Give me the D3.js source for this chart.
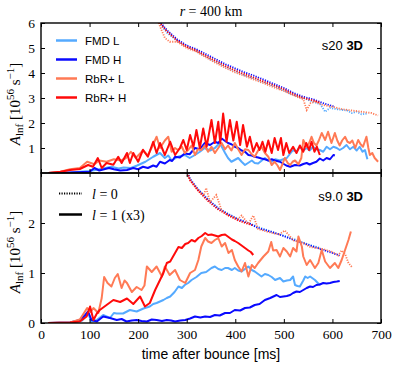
<!DOCTYPE html>
<head>
  <meta charset="utf-8">
  <script src="https://d3js.org/d3.v7.min.js"></script>
  <style>
    body { margin:0; background:#fff; }
    .tick text { font: 13.5px "Liberation Serif", serif; fill:#000; }
    .tick line { stroke:#000; stroke-width:1; }
    .frame { fill:none; stroke:#000; stroke-width:1.4; }
    .leg { font: 11.5px "Liberation Sans", sans-serif; }
    .serif { font-family: "Liberation Serif", serif; }
  </style>
</head>
<body>
<svg id="chart" width="399" height="370"></svg>
<script>
// ---------- data ----------
var xTicks = [0, 100, 200, 300, 400, 500, 600, 700];
var yTicksTop = [1, 2, 3, 4, 5, 6];
var yTicksBot = [0, 1, 2];

var models = ["FMD L", "FMD H", "RbR+ L", "RbR+ H"];
var colors = ["#55aaff", "#0a0aff", "#ff7a55", "#ff0a0a"];

// s20, l=1 (x3)
var s20_fmdL_l1 = [[15,0],[60,0.02],[100,0.08],[120,0.15],[145,0.25],[160,0.18],[170,0.22],[185,0.2],[198,0.3],[215,0.45],[231,0.65],[245,0.8],[255,0.6],[262,0.7],[269,0.5],[282,0.65],[296,0.72],[306,0.6],[317,0.72],[327,0.85],[337,1.0],[348,0.9],[358,1.0],[368,1.2],[379,0.8],[385,0.6],[392,0.45],[406,0.6],[413,0.45],[420,0.32],[434,0.5],[440,0.4],[447,0.38],[461,0.6],[468,0.5],[475,0.45],[482,0.55],[492,0.5],[506,0.6],[512,0.75],[519,0.92],[526,0.85],[533,1.05],[540,0.9],[547,1.0],[553,0.9],[560,1.05],[567,0.95],[574,0.92],[581,0.85],[588,1.05],[595,0.95],[602,1.05],[609,1.0],[615,0.92],[622,1.0],[629,1.12],[636,0.95],[643,1.05],[650,0.9],[656,1.05],[662,0.85],[667,0.92],[672,0.55]];
var s20_fmdH_l1 = [[15,0],[60,0.02],[100,0.05],[110,0.2],[120,0.1],[130,0.15],[140,0.2],[150,0.15],[163,0.1],[177,0.12],[190,0.2],[200,0.15],[210,0.25],[220,0.2],[231,0.3],[238,0.25],[245,0.45],[255,0.38],[265,0.52],[270,0.48],[276,0.65],[286,0.62],[296,0.78],[306,0.75],[317,1.0],[327,0.95],[337,1.2],[348,1.12],[358,1.25],[365,1.2],[372,1.38],[379,1.28],[385,1.2],[392,1.15],[399,1.05],[406,1.0],[413,0.9],[420,0.85],[427,0.72],[434,0.7],[440,0.65],[447,0.62],[454,0.58],[461,0.55],[468,0.5],[475,0.55],[482,0.5],[492,0.45],[498,0.38],[505,0.3],[513,0.25],[523,0.32],[533,0.3],[540,0.36],[547,0.4],[553,0.34],[560,0.4],[567,0.45],[574,0.58],[581,0.5],[588,0.6],[595,0.55],[602,0.72],[605,0.7]];
var s20_rbrL_l1 = [[15,0],[40,0.05],[60,0.15],[80,0.2],[95,0.45],[110,0.35],[120,0.5],[135,0.45],[150,0.55],[165,0.5],[175,0.6],[185,0.85],[195,0.6],[210,0.9],[220,0.7],[230,1.1],[238,1.45],[245,1.0],[255,1.3],[262,1.45],[269,0.85],[276,1.0],[282,0.92],[290,1.05],[296,0.8],[303,0.92],[310,1.1],[317,0.72],[323,0.95],[330,0.92],[337,1.1],[344,0.85],[351,1.05],[358,0.8],[365,1.0],[372,1.2],[379,0.95],[385,1.1],[392,0.9],[399,1.2],[406,0.95],[413,0.72],[420,0.95],[427,0.92],[434,0.75],[440,0.65],[447,0.9],[454,1.05],[461,0.8],[468,0.65],[475,0.32],[481,0.45],[487,0.3],[492,0.12],[497,0.35],[502,0.6],[508,0.4],[513,0.32],[518,0.45],[523,0.5],[530,0.35],[536,0.6],[540,1.32],[547,1.05],[552,1.2],[557,1.45],[562,1.2],[567,1.1],[572,1.3],[578,1.6],[585,1.32],[591,1.65],[598,1.2],[605,1.6],[610,1.3],[615,1.1],[620,1.3],[626,1.45],[631,1.25],[636,1.2],[641,1.3],[647,1.0],[653,1.32],[658,1.15],[663,1.05],[670,1.45],[674,1.0],[677,0.72],[682,0.8],[687,0.6],[694,0.45]];
var s20_rbrH_l1 = [[15,0],[40,0.05],[60,0.12],[80,0.16],[97,0.32],[107,0.25],[117,0.6],[125,0.2],[135,0.4],[149,0.33],[159,0.65],[166,0.4],[177,0.8],[183,0.4],[190,0.8],[200,0.45],[210,0.93],[220,0.65],[231,1.25],[238,0.8],[245,1.2],[255,0.72],[266,1.25],[276,0.72],[286,1.0],[293,1.32],[300,0.92],[307,1.52],[314,1.05],[320,1.72],[327,1.0],[334,1.78],[341,1.05],[351,2.12],[358,1.2],[365,2.05],[369,1.2],[375,2.38],[382,1.25],[389,2.12],[396,1.3],[403,2.05],[410,1.12],[416,1.92],[424,1.05],[430,1.45],[437,0.85],[444,1.2],[450,0.92],[456,1.25],[462,0.85],[468,1.3],[475,0.8],[481,1.4],[488,0.92],[494,1.4],[499,0.72],[505,1.2],[511,0.8],[519,1.05],[526,0.8],[533,1.1],[540,0.85],[546,1.2],[552,0.92],[557,1.25],[563,0.85],[568,1.05],[574,0.72]];

// s20, l=0
var s20_fmdL_l0 = [[240,6.1],[260,5.6],[280,5.3],[300,5.05],[320,4.88],[340,4.65],[360,4.45],[380,4.25],[400,4.08],[420,3.9],[440,3.78],[460,3.62],[480,3.48],[500,3.3],[520,3.12],[540,3.0],[560,2.85],[575,2.75],[585,2.45],[595,2.6],[610,2.55],[630,2.5],[640,2.4],[650,2.45],[660,2.35],[672,2.38]];
var s20_fmdH_l0 = [[240,6.15],[260,5.7],[280,5.35],[300,5.1],[320,4.95],[340,4.75],[360,4.55],[380,4.35],[400,4.18],[420,4.02],[440,3.88],[460,3.72],[480,3.56],[500,3.4],[520,3.2],[540,3.05],[560,2.95],[580,2.8],[600,2.68],[605,2.65]];
var s20_rbrL_l0 = [[240,6.1],[255,5.4],[265,5.25],[280,5.25],[300,5.0],[320,4.85],[340,4.62],[360,4.4],[380,4.2],[400,4.02],[420,3.88],[440,3.72],[460,3.58],[480,3.42],[500,3.28],[520,3.1],[540,2.95],[547,2.52],[555,2.8],[565,2.85],[580,2.72],[600,2.65],[620,2.55],[640,2.5],[660,2.45],[680,2.4],[694,2.3]];
var s20_rbrH_l0 = [[240,6.1],[260,5.65],[280,5.3],[300,5.05],[320,4.9],[340,4.68],[360,4.48],[380,4.28],[400,4.1],[420,3.95],[440,3.8],[460,3.65],[480,3.5],[500,3.35],[520,3.15],[540,3.0],[560,2.9],[574,2.82]];

// s9.0, l=1 (x3)
var s9_fmdL_l1 = [[15,0],[60,0.01],[85,0.05],[93,0.15],[98,0.18],[103,0.03],[115,0.06],[128,0.16],[142,0.1],[150,0.2],[156,0.19],[169,0.19],[183,0.26],[197,0.23],[211,0.29],[224,0.33],[231,0.38],[238,0.4],[245,0.43],[252,0.46],[259,0.5],[266,0.53],[275,0.62],[283,0.73],[290,0.7],[296,0.76],[303,0.8],[310,0.86],[320,0.92],[330,1.0],[340,1.02],[351,1.1],[358,1.13],[365,1.08],[372,1.06],[379,1.1],[385,1.1],[393,1.06],[399,1.1],[406,1.05],[413,1.03],[420,1.08],[427,1.13],[434,1.06],[440,1.03],[447,0.98],[454,0.93],[461,0.98],[468,0.96],[475,0.92],[482,0.86],[492,0.9],[499,0.83],[506,0.85],[513,0.86],[519,0.93],[523,0.76],[528,0.74],[533,0.73],[540,0.85],[544,0.93],[549,0.9],[554,0.93],[564,0.86],[570,0.8],[575,0.76]];
var s9_fmdH_l1 = [[15,0],[60,0.01],[80,0.06],[91,0.16],[97,0.23],[104,0.06],[115,0.03],[128,0.13],[142,0.1],[156,0.06],[166,0.08],[176,0.03],[187,0.05],[197,0.06],[207,0.04],[218,0.03],[228,0.07],[238,0.06],[249,0.04],[259,0.06],[268,0.05],[276,0.03],[287,0.05],[297,0.06],[307,0.09],[317,0.13],[328,0.11],[338,0.13],[348,0.12],[358,0.16],[368,0.15],[379,0.2],[389,0.2],[399,0.26],[410,0.25],[420,0.3],[430,0.31],[440,0.36],[450,0.38],[461,0.46],[472,0.5],[485,0.56],[492,0.52],[499,0.53],[506,0.54],[513,0.56],[519,0.6],[526,0.63],[533,0.62],[540,0.66],[547,0.7],[554,0.73],[560,0.72],[567,0.76],[574,0.77],[581,0.8],[588,0.79],[595,0.8],[602,0.82],[609,0.83],[615,0.84]];
var s9_rbrL_l1 = [[15,0],[60,0.01],[80,0.07],[95,0.3],[102,0.22],[108,0.3],[118,0.2],[125,0.5],[130,0.92],[137,0.8],[145,0.73],[152,0.9],[158,0.98],[166,0.7],[172,0.85],[177,0.8],[187,0.62],[197,0.72],[207,0.66],[213,0.75],[218,1.13],[228,1.02],[238,1.13],[249,0.93],[255,1.13],[265,0.96],[276,1.06],[286,0.86],[297,0.8],[307,1.0],[317,1.06],[324,1.26],[330,1.53],[338,1.7],[344,1.63],[351,1.6],[358,1.66],[365,1.7],[372,1.53],[379,1.6],[386,1.4],[393,1.46],[399,1.26],[406,1.13],[413,1.03],[420,1.2],[427,0.93],[434,1.16],[440,1.1],[447,1.2],[458,1.33],[468,1.43],[474,1.62],[478,1.45],[485,1.46],[492,1.33],[499,1.5],[506,1.43],[513,1.33],[519,1.5],[526,1.43],[530,1.73],[537,1.53],[540,1.33],[547,1.16],[554,1.26],[564,1.1],[571,1.2],[578,1.46],[585,1.23],[595,1.1],[605,1.2],[612,1.1],[619,1.26],[626,1.46],[633,1.66],[638,1.83]];
var s9_rbrH_l1 = [[15,0],[60,0.01],[80,0.03],[94,0.13],[101,0.33],[108,0.06],[115,0.19],[121,0.26],[135,0.36],[149,0.46],[163,0.42],[177,0.49],[190,0.38],[204,0.53],[214,0.33],[224,0.4],[235,0.66],[245,0.86],[252,1.0],[259,1.2],[266,1.23],[276,1.4],[283,1.52],[290,1.5],[297,1.58],[303,1.6],[310,1.66],[317,1.63],[324,1.7],[331,1.74],[338,1.8],[344,1.76],[351,1.77],[358,1.75],[365,1.73],[372,1.76],[379,1.77],[386,1.72],[393,1.67],[399,1.64],[406,1.6],[413,1.55],[420,1.5],[427,1.45],[432,1.42],[437,1.36]];

// s9.0, l=0
var s9_fmdL_l0 = [[298,3.05],[307,2.87],[324,2.67],[344,2.47],[365,2.3],[386,2.18],[406,2.08],[427,2.0],[447,1.92],[468,1.85],[482,1.8],[499,1.75],[526,1.66],[554,1.56],[575,1.5]];
var s9_fmdH_l0 = [[300,3.05],[307,2.88],[324,2.66],[344,2.46],[365,2.29],[386,2.17],[406,2.07],[427,2.0],[447,1.9],[468,1.84],[482,1.8],[499,1.74],[526,1.64],[554,1.55],[581,1.46],[600,1.4],[615,1.35]];
var s9_rbrL_l0 = [[296,3.05],[307,2.86],[324,2.65],[335,2.55],[340,2.7],[348,2.42],[361,2.56],[372,2.25],[386,2.15],[406,2.08],[413,2.15],[427,1.98],[437,2.15],[447,1.88],[468,1.82],[490,1.77],[502,1.85],[520,1.65],[540,1.6],[554,1.52],[580,1.48],[600,1.42],[612,1.35],[619,1.45],[626,1.38],[633,1.2],[640,1.12]];
var s9_rbrH_l0 = [[300,3.05],[307,2.85],[324,2.64],[344,2.44],[365,2.27],[386,2.15],[406,2.05],[427,1.98],[437,1.95]];

var topL1 = [s20_fmdL_l1, s20_fmdH_l1, s20_rbrL_l1, s20_rbrH_l1];
var topL0 = [s20_fmdL_l0, s20_fmdH_l0, s20_rbrL_l0, s20_rbrH_l0];
var botL1 = [s9_fmdL_l1, s9_fmdH_l1, s9_rbrL_l1, s9_rbrH_l1];
var botL0 = [s9_fmdL_l0, s9_fmdH_l0, s9_rbrL_l0, s9_rbrH_l0];

// ---------- layout ----------
var left = 41, right = 381;
var topPanel = {y0: 23, y1: 173};
var botPanel = {y0: 173, y1: 323};

var svg = d3.select("#chart");

var x = d3.scaleLinear().domain([0, 700]).range([left, right]);
var yTop = d3.scaleLinear().domain([0, 6]).range([topPanel.y1, topPanel.y0]);
var yBot = d3.scaleLinear().domain([0, 3]).range([botPanel.y1, botPanel.y0]);

function clip(id, p) {
  svg.append("clipPath").attr("id", id)
    .append("rect").attr("x", left).attr("y", p.y0)
    .attr("width", right - left).attr("height", p.y1 - p.y0);
}
clip("clipTop", topPanel);
clip("clipBot", botPanel);

function drawSeries(y, clipId, solid, dotted) {
  var line = d3.line().x(function(d) { return x(d[0]); }).y(function(d) { return y(d[1]); });
  var g = svg.append("g").attr("clip-path", "url(#" + clipId + ")");
  dotted.forEach(function(s, i) {
    g.append("path").attr("d", line(s)).attr("fill", "none")
      .attr("stroke", colors[i]).attr("stroke-width", 1.8)
      .attr("stroke-dasharray", "1.2,1.3");
  });
  solid.forEach(function(s, i) {
    g.append("path").attr("d", line(s)).attr("fill", "none")
      .attr("stroke", colors[i]).attr("stroke-width", 2)
      .attr("stroke-linejoin", "round");
  });
}
drawSeries(yTop, "clipTop", topL1, topL0);
drawSeries(yBot, "clipBot", botL1, botL0);

// axes (ticks point inward)
function axes(p, y, yt, showX) {
  svg.append("g").attr("transform", "translate(" + left + ",0)")
    .call(d3.axisLeft(y).tickValues(yt).tickSizeInner(-4).tickSizeOuter(0).tickPadding(6)
      .tickFormat(d3.format("d")));
  svg.append("g").attr("transform", "translate(" + right + ",0)")
    .call(d3.axisRight(y).tickValues(yt).tickSizeInner(-4).tickSizeOuter(0).tickFormat(""));
  svg.append("g").attr("transform", "translate(0," + p.y0 + ")")
    .call(d3.axisTop(x).tickValues(xTicks).tickSizeInner(-4).tickSizeOuter(0).tickFormat(""));
  svg.append("g").attr("transform", "translate(0," + p.y1 + ")")
    .call(d3.axisBottom(x).tickValues(xTicks).tickSizeInner(-4).tickSizeOuter(0).tickPadding(6)
      .tickFormat(showX ? d3.format("d") : ""));
  svg.selectAll(".domain").remove();
  svg.append("rect").attr("class", "frame").attr("x", left).attr("y", p.y0)
    .attr("width", right - left).attr("height", p.y1 - p.y0);
}
axes(topPanel, yTop, yTicksTop, false);
axes(botPanel, yBot, yTicksBot, true);

// title
var title = svg.append("text").attr("class", "serif").attr("x", 211).attr("y", 16)
  .attr("text-anchor", "middle").style("font-size", "14px");
title.append("tspan").attr("font-style", "italic").text("r");
title.append("tspan").text(" = 400 km");

// x label
svg.append("text").attr("x", 211).attr("y", 359).attr("text-anchor", "middle")
  .style("font", "14px 'Liberation Sans', sans-serif").text("time after bounce [ms]");

// y labels
function ylabel(cy) {
  var t = svg.append("text").attr("class", "serif")
    .attr("transform", "translate(20," + cy + ") rotate(-90)")
    .attr("text-anchor", "middle").style("font-size", "15px");
  t.append("tspan").attr("font-style", "italic").text("A");
  t.append("tspan").attr("dy", 3).style("font-size", "11px").text("lnf");
  t.append("tspan").attr("dy", -3).text(" [10");
  t.append("tspan").attr("dy", -6).style("font-size", "11px").text("56");
  t.append("tspan").attr("dy", 6).text(" s");
  t.append("tspan").attr("dy", -6).style("font-size", "11px").text("\u22121");
  t.append("tspan").attr("dy", 6).text("]");
}
ylabel(104);
ylabel(252);

// top legend (models)
models.forEach(function(m, i) {
  var yy = 40.5 + i * 19;
  svg.append("line").attr("x1", 56).attr("x2", 77).attr("y1", yy).attr("y2", yy)
    .attr("stroke", colors[i]).attr("stroke-width", 2.5);
  svg.append("text").attr("class", "leg").attr("x", 85).attr("y", yy).attr("dy", "0.36em").text(m);
});

// bottom legend (multipoles)
var lstyles = [{dash: "1.2,1.3", w: 1.8, label: " = 0"}, {dash: null, w: 2.5, label: " = 1 (x3)"}];
lstyles.forEach(function(s, i) {
  var yy = 193.5 + i * 21;
  svg.append("line").attr("x1", 59).attr("x2", 82).attr("y1", yy).attr("y2", yy)
    .attr("stroke", "#000").attr("stroke-width", s.w).attr("stroke-dasharray", s.dash);
  var t = svg.append("text").attr("class", "serif").attr("x", 92).attr("y", yy).attr("dy", "0.36em")
    .style("font-size", "14px");
  t.append("tspan").attr("font-style", "italic").text("l");
  t.append("tspan").text(s.label);
});

// panel tags
function tag(txt, yy) {
  var t = svg.append("text").attr("x", 363).attr("y", yy).attr("dy", "0.36em")
    .attr("text-anchor", "end").style("font", "13px 'Liberation Sans', sans-serif");
  t.append("tspan").text(txt + " ");
  t.append("tspan").attr("font-weight", "bold").text("3D");
}
tag("s20", 45);
tag("s9.0", 196);
</script>
</body>
